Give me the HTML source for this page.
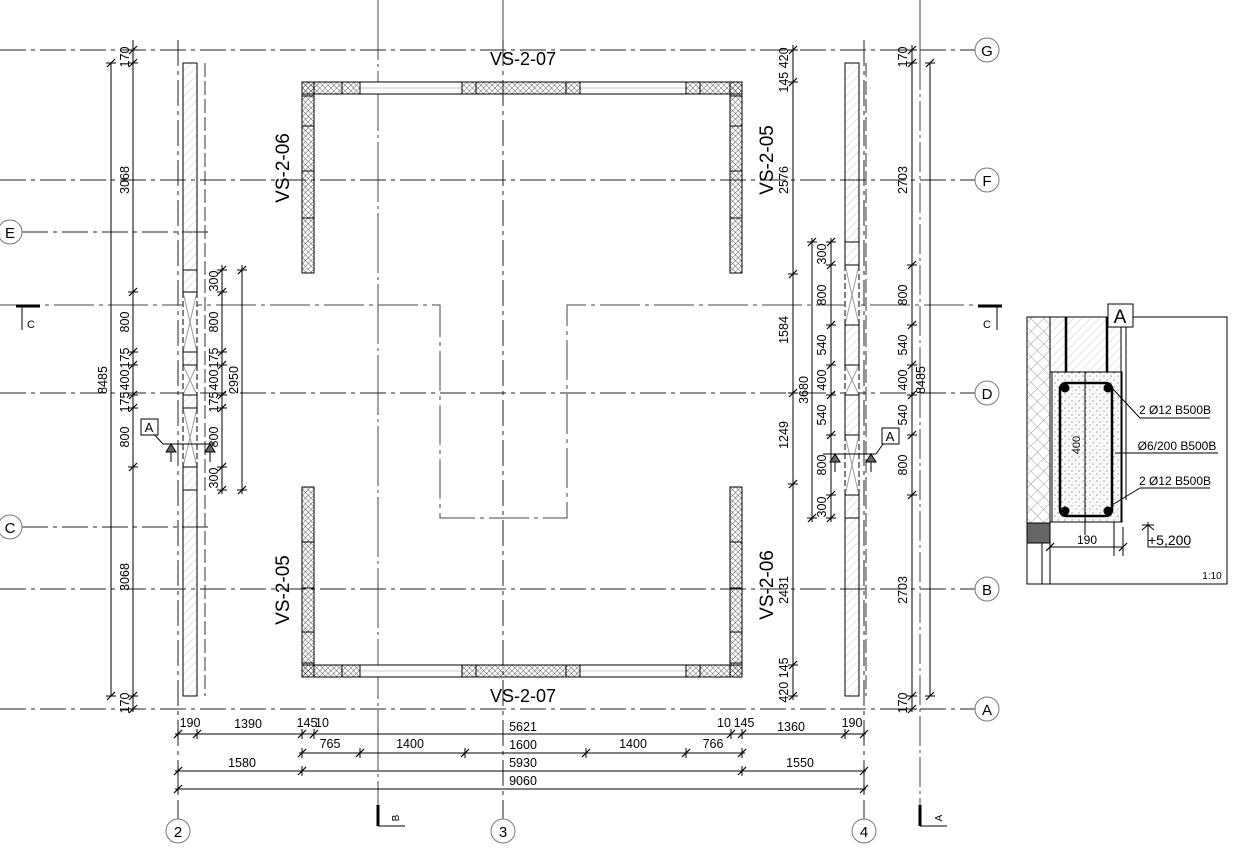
<!DOCTYPE html>
<html><head><meta charset="utf-8"><style>
html,body{margin:0;padding:0;background:#fff;width:1240px;height:852px;overflow:hidden}
svg{display:block;font-family:"Liberation Sans",sans-serif}
</style></head><body>
<svg id="s" width="1240" height="852" viewBox="0 0 1240 852" xmlns="http://www.w3.org/2000/svg">
<defs>
<pattern id="h" width="6" height="6" patternUnits="userSpaceOnUse" patternTransform="rotate(45)"><line x1="0" y1="0" x2="0" y2="6" stroke="#bbb" stroke-width="0.8"/></pattern>
<pattern id="x" width="9" height="9" patternUnits="userSpaceOnUse" patternTransform="rotate(45)"><line x1="0" y1="0" x2="0" y2="9" stroke="#888" stroke-width="0.8"/><line x1="0" y1="0" x2="9" y2="0" stroke="#888" stroke-width="0.8"/></pattern>
<pattern id="ins" width="4" height="4" patternUnits="userSpaceOnUse" patternTransform="rotate(45)"><line x1="0" y1="0" x2="0" y2="4" stroke="#222" stroke-width="0.7"/><line x1="0" y1="0" x2="4" y2="0" stroke="#222" stroke-width="0.7"/></pattern>
<pattern id="dots" width="7" height="7" patternUnits="userSpaceOnUse"><circle cx="1" cy="2" r="0.5" fill="#000"/><circle cx="5" cy="5" r="0.5" fill="#000"/><circle cx="4" cy="1" r="0.4" fill="#777"/><circle cx="2" cy="6" r="0.4" fill="#777"/></pattern>
</defs>
<g id="g" stroke="#000" fill="none" stroke-width="1"></g>
</svg>
<script>
const g=document.getElementById('g');let o='';
const L=(a,b,c,d,st='')=>o+=`<line x1="${a}" y1="${b}" x2="${c}" y2="${d}" ${st}/>`;
const DD='stroke-dasharray="26 5 4 5" stroke="#222"';
const R=(x,y,w,h,f='none',st='')=>o+=`<rect x="${x}" y="${y}" width="${w}" height="${h}" fill="${f}" ${st}/>`;
const T=(x,y,t,s=12,rot=false,anc='middle')=>o+=`<text x="${x}" y="${y}" font-size="${s}" fill="#000" stroke="none" text-anchor="${anc}" ${rot?`transform="rotate(-90 ${x} ${y})"`:''}>${t}</text>`;
const tick=(x,y)=>L(x-4,y+4,x+4,y-4,'stroke-width="1.2"');
const tickV=(x,y)=>{L(x-5,y,x+5,y);L(x-4,y+4,x+4,y-4,'stroke-width="1.2"');};
const tickH=(x,y)=>{L(x,y-5,x,y+5);L(x-4,y+4,x+4,y-4,'stroke-width="1.2"');};
const F=12.5;
[[50,'G'],[180,'F'],[393,'D'],[589,'B'],[709,'A']].forEach(([y,l])=>{L(0,y,975,y,DD);o+=`<circle cx="987" cy="${y}" r="12" fill="#fff" stroke="#777"/>`;T(987,y+6,l,15);});
[[232,'E'],[527,'C']].forEach(([y,l])=>{L(22,y,213,y,DD);o+=`<circle cx="10" cy="${y}" r="12" fill="#fff" stroke="#777"/>`;T(10,y+6,l,15);});
[[178,'2'],[503,'3'],[864,'4']].forEach(([x,l])=>{L(x,40,x,819,DD);o+=`<circle cx="${x}" cy="831" r="12" fill="#fff" stroke="#777"/>`;T(x,837,l,15);});
L(378,0,378,826,'stroke="#444" stroke-dasharray="60 4 3 4"');
L(920,0,920,60,'stroke="#444"');L(920,60,920,826,'stroke="#444" stroke-dasharray="30 4 3 4"');
L(503,0,503,40,'stroke="#444"');
L(378,805,378,826,'stroke-width="3"');L(378,826,405,826);T(399,818,'B',10,true);
L(920,805,920,826,'stroke-width="3"');L(920,826,947,826);T(942,818,'A',10,true);
o+=`<path d="M0 305 H440 V518 H567 V305 H1000" stroke="#444" stroke-dasharray="40 5 4 5"/>`;
L(16,306,40,306,'stroke-width="3"');L(22,306,22,330);T(27,328,'C',11,false,'start');
L(978,306,1002,306,'stroke-width="3"');L(997,306,997,330);T(987,328,'C',11);
function col(x,w,y0,y1,segs){R(x,y0,w,y1-y0,'url(#h)');
 segs.forEach(([a,b])=>{R(x,a,w,b-a,'#fff','stroke="none"');L(x,a,x+w,b,'stroke="#999"');L(x+w,a,x,b,'stroke="#999"');L(x,a,x+w,a);L(x,b,x+w,b);});
 o+=`<rect x="${x}" y="${y0}" width="${w}" height="${y1-y0}" stroke="#000" fill="none" stroke-width="1"/>`;
 segs.forEach(([a,b])=>{L(x,a+1,x,b-1,'stroke="#fff" stroke-width="1.5"');L(x+w,a+1,x+w,b-1,'stroke="#fff" stroke-width="1.5"');L(x,a,x,b,'stroke-dasharray="6 3"');L(x+w,a,x+w,b,'stroke-dasharray="6 3"');});}
col(183,14,63,696,[[292,352],[365,395],[408,467]]);
[270,490].forEach(y=>L(183,y,197,y));
col(845,14,63,696,[[265,325],[365,395],[435,495]]);
[242,518].forEach(y=>L(845,y,859,y));
L(205,63,205,696,'stroke="#333" stroke-dasharray="14 4"');L(866,63,866,696,'stroke="#333" stroke-dasharray="14 4"');
L(111,63,111,696);[63,696].forEach(y=>tickV(111,y));T(107,380,'8485',F,true);
L(133,40,133,712);[50,63,292,352,365,395,408,467,696,709].forEach(y=>tickV(133,y));
[[57,'170'],[180,'3068'],[322,'800'],[358,'175'],[380,'400'],[402,'175'],[437,'800'],[577,'3068'],[703,'170']].forEach(([y,t])=>T(129,y,t,F,true));
L(222,265,222,494);[270,292,352,365,395,408,467,490].forEach(y=>tickV(222,y));
[[281,'300'],[322,'800'],[358,'175'],[380,'400'],[402,'175'],[437,'800'],[478,'300']].forEach(([y,t])=>T(218,y,t,F,true));
L(242,265,242,494);[270,490].forEach(y=>tickV(242,y));T(238,380,'2950',F,true);
L(793,45,793,700);[50,82,274,393,484,665,696].forEach(y=>tickV(793,y));
[[70,'145 420'],[180,'2576'],[330,'1584'],[435,'1249'],[590,'2431'],[680,'420 145']].forEach(([y,t])=>T(788,y,t,F,true));
L(812,238,812,522);[242,518].forEach(y=>tickV(812,y));T(808,390,'3680',F,true);
L(831,238,831,522);[242,265,325,365,395,435,495,518].forEach(y=>tickV(831,y));
[[254,'300'],[295,'800'],[345,'540'],[380,'400'],[415,'540'],[465,'800'],[507,'300']].forEach(([y,t])=>T(826,y,t,F,true));
L(912,45,912,712);[50,63,265,325,365,395,435,495,696,709].forEach(y=>tickV(912,y));
[[57,'170'],[180,'2703'],[295,'800'],[345,'540'],[380,'400'],[415,'540'],[465,'800'],[590,'2703'],[703,'170']].forEach(([y,t])=>T(907,y,t,F,true));
L(930,63,930,696);[63,696].forEach(y=>tickV(930,y));T(925,380,'8485',F,true);
L(163,444,215,444);L(152,432,163,444);R(141,419,17,16,'#fff');T(149,432,'A',13);
o+=`<path d="M166 452 L171 444 L176 452 Z" fill="#666"/><path d="M205 452 L210 444 L215 452 Z" fill="#666"/>`;L(171,452,171,462);L(210,452,210,462);
L(823,454,876,454);L(876,454,883,444);R(882,428,17,16,'#fff');T(890,441,'A',13);
o+=`<path d="M830 462 L835 454 L840 462 Z" fill="#666"/><path d="M866 462 L871 454 L876 462 Z" fill="#666"/>`;L(835,462,835,472);L(871,462,871,472);
function wallH(x0,x1,y,wins){R(x0,y,x1-x0,12,'url(#ins)');wins.forEach(([a,b])=>{R(a,y,b-a,12,'#fff','stroke="#aaa"');L(a,y+6,b,y+6,'stroke="#ccc"');L(a,y+12,b,y+12,'stroke="#999" stroke-dasharray="5 3"');});R(x0,y,x1-x0,12);}
function wallV(x,y0,y1,segs){R(x,y0,12,y1-y0,'url(#ins)');R(x,y0,12,y1-y0);segs.forEach(y=>L(x,y,x+12,y));}
wallH(302,742,82,[[360,462],[580,686]]);wallH(302,742,665,[[360,462],[580,686]]);
[342,360,462,476,566,580,686,700].forEach(x=>{L(x,82,x,94);L(x,665,x,677);});
wallV(302,82,273,[96,126,171,218]);wallV(730,82,273,[96,126,171,218]);
wallV(302,487,677,[542,588,632,663]);wallV(730,487,677,[542,588,632,663]);
T(523,65,'VS-2-07',18);T(523,702,'VS-2-07',18);
T(289,168,'VS-2-06',19,true);T(773,160,'VS-2-05',19,true);
T(289,590,'VS-2-05',19,true);T(773,585,'VS-2-06',19,true);
L(175,734,866,734);[178,197,302,314,731,742,845,864].forEach(x=>tickH(x,734));
[[190,727,'190'],[248,728,'1390'],[307,727,'145'],[322,727,'10'],[523,731,'5621'],[724,727,'10'],[744,727,'145'],[791,731,'1360'],[852,727,'190']].forEach(([x,y,t])=>T(x,y,t,F));
L(299,753,745,753);[302,360,465,586,686,742].forEach(x=>tickH(x,753));
[[330,748,'765'],[410,748,'1400'],[523,749,'1600'],[633,748,'1400'],[713,748,'766']].forEach(([x,y,t])=>T(x,y,t,F));
L(175,771,866,771);[178,302,742,864].forEach(x=>tickH(x,771));
T(242,767,'1580',F);T(523,767,'5930',F);T(800,767,'1550',F);
L(175,789,866,789);[178,864].forEach(x=>tickH(x,789));T(523,785,'9060',F);
R(1027,317,200,267);
R(1027,317,23,206,'url(#x)');R(1027,523,23,20,'#666');L(1042,543,1042,584);L(1050,317,1050,584);
R(1050,317,71,55,'url(#h)');L(1066,317,1066,372,'stroke-width="2.5"');L(1107,317,1107,372,'stroke-width="2.5"');
R(1052,372,70,150,'url(#dots)');R(1050,372,71,150,'none','stroke="#000"');
o+=`<rect x="1060" y="383" width="52" height="133" rx="6" fill="none" stroke="#000" stroke-width="2.5"/>`;
[[1065,388],[1108,388],[1065,511],[1108,511]].forEach(([x,y])=>o+=`<circle cx="${x}" cy="${y}" r="4" fill="#000"/>`);
L(1085,372,1085,535);T(1080,445,'400',11,true);
L(1112,388,1140,418);L(1140,418,1210,418);T(1175,414,'2 Ø12 B500B',12);
L(1115,453,1218,453);T(1177,450,'Ø6/200 B500B',12);
L(1112,505,1140,488);L(1140,488,1210,488);T(1175,485,'2 Ø12 B500B',12);
L(1050,547,1123,547);tick(1050,547);tick(1123,547);L(1123,527,1123,556);L(1114,522,1114,556);T(1087,544,'190',12);
L(1142,525,1154,525);L(1148,522,1148,547);L(1148,547,1190,547);o+='<path d="M1142 530 L1148 525 L1154 530" fill="none" stroke="#000"/>';T(1148,545,'+5,200',14,false,'start');
R(1108,304,25,23,'#fff');T(1120,323,'A',19);L(1126,327,1126,500);
T(1212,579,'1:10',10);
g.innerHTML=o;
</script>
</body></html>
